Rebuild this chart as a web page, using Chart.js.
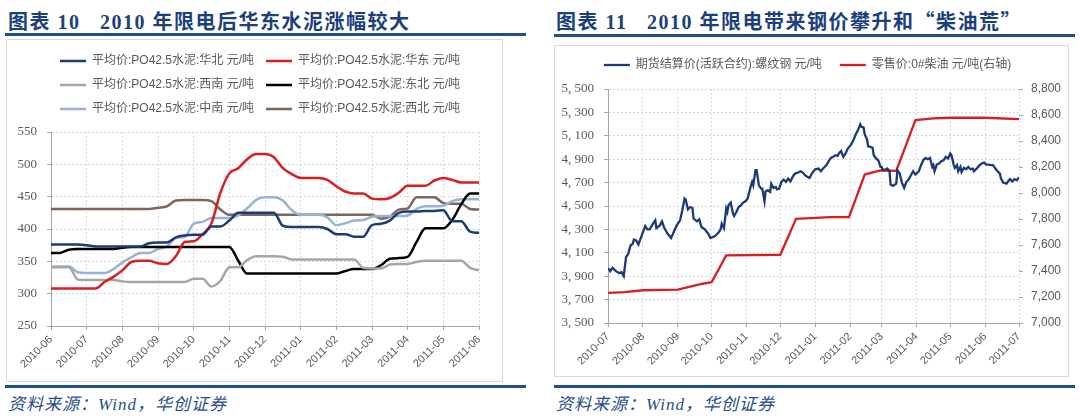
<!DOCTYPE html>
<html lang="zh">
<head>
<meta charset="UTF-8">
<title>限电与价格</title>
<script src="https://cdn.jsdelivr.net/npm/chart.js"></script>
<style>
    body { margin: 0; width: 1080px; height: 419px; background: #fff; position: relative; overflow: hidden; }
    .title { position: absolute; top: 6px; font: bold 20px "Liberation Serif", "Noto Sans CJK SC", serif; color: #1c3f7e; letter-spacing: 1.5px; white-space: pre; }
    .title .q { font-family: "Noto Sans CJK SC", sans-serif; }
    .rule { position: absolute; height: 3px; background: #1f4e8c; }
    .box { position: absolute; border: 1px solid #d9d9d9; box-sizing: border-box; }
    .wrap { position: absolute; }
    .src { position: absolute; top: 390px; font: italic 17px "Liberation Serif", "Noto Sans CJK SC", serif; color: #1f4e8c; letter-spacing: 1px; }
</style>
</head>
<body>
<div class="title" style="left:8px">图表 10   2010 年限电后华东水泥涨幅较大</div>
<div class="rule" style="left:5px;width:521px;top:33px"></div>
<div class="box" style="left:6px;top:39px;width:497px;height:343px"></div>
<div class="wrap" style="left:6px;top:39px;width:508px;height:343px"><canvas id="cementChart"></canvas></div>
<div class="rule" style="left:5px;width:521px;top:385px"></div>
<div class="src" style="left:8px">资料来源：Wind，华创证券</div>

<div class="title" style="left:556px">图表 11   2010 年限电带来钢价攀升和<span class="q">“柴油荒”</span></div>
<div class="rule" style="left:554px;width:521px;top:34px"></div>
<div class="box" style="left:554px;top:45px;width:515px;height:332px"></div>
<div class="wrap" style="left:554px;top:45px;width:507px;height:332px"><canvas id="steelChart"></canvas></div>
<div class="rule" style="left:554px;width:521px;top:385px"></div>
<div class="src" style="left:556px">资料来源：Wind，华创证券</div>

<script>
// 图表10: 周度水泥价格, 每月4个点
const cementMonths = ['2010-06', '2010-07', '2010-08', '2010-09', '2010-10', '2010-11', '2010-12',
    '2011-01', '2011-02', '2011-03', '2011-04', '2011-05', '2011-06'];
const cementHB = [376,376,376,376,375,373,373,373,373,373,373,378,379,379,387,390,391,391,404,404,413,425,425,425,425,
    425,405,403,403,403,403,400,392,392,388,388,406,408,413,425,427,427,428,428,429,412,412,396,394];
const cementHD = [308,308,308,308,308,308,318,326,336,349,351,351,347,346,358,380,381,392,409,456,486,494,508,516,516,
    511,494,485,479,479,479,476,466,458,455,455,447,446,448,456,467,467,467,475,479,476,472,472,472];
const cementXN = [341,341,341,322,321,321,321,321,319,318,318,318,318,318,318,318,323,323,311,320,341,341,352,358,358,
    358,357,353,353,353,353,353,353,353,353,340,339,339,345,346,346,349,351,351,351,351,351,340,336];
const cementDB = [363,363,368,369,369,369,369,369,371,372,372,372,372,372,372,372,372,372,372,372,372,351,331,331,331,
    331,331,331,331,331,331,331,331,335,338,338,338,344,354,355,357,380,401,401,401,414,438,455,455];
const cementZN = [342,342,342,333,332,332,332,338,348,356,363,363,369,373,386,388,408,411,417,417,417,421,432,445,449,
    449,444,429,422,422,422,418,406,409,413,414,419,420,420,420,421,431,435,435,436,443,446,446,446];
const cementXB = [431,431,431,431,431,431,431,431,431,431,431,431,433,435,444,445,445,445,443,430,422,422,422,422,422,
    422,422,422,422,422,422,422,422,422,422,422,422,416,419,430,432,449,449,449,440,439,439,431,430];

// 图表11: 螺纹钢期货(左轴) 与 0#柴油零售价(右轴), 横轴为自2010-07-01起的天数
const steelMonths = ['2010-07', '2010-08', '2010-09', '2010-10', '2010-11', '2010-12', '2011-01',
    '2011-02', '2011-03', '2011-04', '2011-05', '2011-06', '2011-07'];
const steelMonthDays = [0, 31, 62, 92, 123, 153, 184, 215, 243, 274, 304, 335, 365];
const steelDays = [0,2,4,7,10,12,14,16,18,20,22,23,25,27,30,33,35,37,40,42,43,46,48,50,53,56,58,61,64,66,68,69,71,73,75,76,
    79,81,83,86,89,91,95,98,100,101,103,105,106,107,109,111,112,114,116,118,120,122,124,127,128,129,131,132,134,136,137,
    139,140,142,144,145,147,149,150,152,154,156,158,160,162,164,166,169,171,173,175,177,179,181,184,187,189,191,194,196,
    198,200,202,204,205,207,209,211,213,216,218,220,222,224,225,227,228,230,231,233,235,236,238,240,242,243,244,247,248,
    250,251,253,256,257,259,261,263,265,267,269,271,273,276,278,280,282,284,286,288,289,290,292,294,296,298,300,302,304,
    305,307,308,310,311,313,314,316,318,320,322,324,325,328,330,332,334,336,338,340,342,344,346,348,349,351,354,356,357,
    359,361,363,365];
const steelPrice = [3969,3943,3971,3943,3926,3934,3900,4063,4091,4163,4177,4214,4206,4171,4249,4329,4300,4300,4349,4377,
    4311,4334,4369,4311,4263,4226,4269,4334,4377,4463,4563,4554,4471,4491,4483,4391,4369,4386,4320,4300,4263,4226,4243,
    4271,4300,4349,4311,4477,4449,4506,4529,4434,4414,4449,4491,4506,4529,4540,4563,4677,4706,4677,4806,4806,4677,4649,
    4649,4540,4626,4634,4620,4691,4654,4663,4643,4649,4706,4726,4706,4734,4711,4749,4777,4786,4797,4786,4763,4749,4740,
    4777,4814,4820,4797,4820,4849,4883,4911,4920,4934,4929,4949,4969,4920,4949,4991,5026,5063,5111,5149,5197,5177,5171,
    5111,5071,5011,5006,4997,4934,4906,4891,4834,4834,4806,4814,4820,4797,4683,4671,4691,4806,4780,4700,4654,4706,4726,
    4763,4797,4769,4797,4849,4891,4911,4900,4911,4834,4849,4797,4854,4863,4883,4891,4920,4906,4949,4934,4854,4826,4849,
    4797,4834,4791,4826,4814,4834,4814,4820,4797,4826,4849,4863,4871,4854,4854,4849,4849,4820,4797,4777,4734,4700,4691,
    4720,4729,4710,4730,4720,4745];
const dieselDays = [0, 15, 31, 62, 83, 92, 105, 153, 167, 197, 214, 228, 242, 256, 273, 289, 304, 335, 365];
const dieselPrice = [7232, 7237, 7252, 7257, 7300, 7314, 7520, 7525, 7802, 7815, 7815, 8142, 8173, 8170, 8561, 8574,
    8579, 8579, 8569];

const sansFont = '"Liberation Sans", "Noto Sans CJK SC", sans-serif';
const tickColor = '#595959';
const gridOpts = { color: '#d9d9d9', tickColor: '#a6a6a6', tickLength: 4 };
const borderOpts = { color: '#a6a6a6', dash: [2, 2] };

function weekly(values) {
    return values.map((v, i) => ({ x: i / 4, y: v }));
}
function pairs(days, values) {
    return days.map((d, i) => ({ x: d, y: values[i] }));
}
function cementLine(label, values, color) {
    return {
        label: label, data: weekly(values), borderColor: color, backgroundColor: color,
        borderWidth: 2.5, pointRadius: 0, tension: 0.25, cubicInterpolationMode: 'monotone'
    };
}
// empty subtitle used as a gap between legend and plot
function spacer(h) {
    return { display: true, text: '', weight: 500, font: { size: 1, lineHeight: 1 }, padding: { top: 0, bottom: h - 1 } };
}
// invisible axis that only reserves room on the right
function padAxis(w) {
    return {
        position: 'right', display: true, ticks: { display: false }, grid: { display: false },
        border: { display: false }, afterFit: s => { s.width = w; }
    };
}

new Chart(document.getElementById('cementChart'), {
    type: 'line',
    data: {
        datasets: [
            cementLine('平均价:PO42.5水泥:华北 元/吨', cementHB, '#1a3a78'),
            cementLine('平均价:PO42.5水泥:华东 元/吨', cementHD, '#d81e1e'),
            cementLine('平均价:PO42.5水泥:西南 元/吨', cementXN, '#a6a6a6'),
            cementLine('平均价:PO42.5水泥:东北 元/吨', cementDB, '#000000'),
            cementLine('平均价:PO42.5水泥:中南 元/吨', cementZN, '#95b3d7'),
            cementLine('平均价:PO42.5水泥:西北 元/吨', cementXB, '#7f655c')
        ]
    },
    options: {
        responsive: true,
        maintainAspectRatio: false,
        animation: false,
        layout: { padding: { top: 4, right: 0, left: 0, bottom: 0 } },
        plugins: {
            tooltip: { enabled: false },
            subtitle: spacer(7),
            legend: {
                labels: {
                    usePointStyle: true, pointStyle: 'line', pointStyleWidth: 26, boxHeight: 12,
                    padding: 12, color: tickColor, font: { family: sansFont, size: 12 }
                }
            }
        },
        scales: {
            x: {
                type: 'linear', min: 0, max: 12,
                ticks: {
                    stepSize: 1, autoSkip: false, maxRotation: 45, minRotation: 45,
                    color: tickColor, font: { family: sansFont, size: 11 },
                    callback: v => cementMonths[v]
                },
                grid: gridOpts, border: borderOpts,
                afterFit: s => { s.height = 56; }
            },
            y: {
                min: 250, max: 550,
                ticks: { stepSize: 50, padding: 10, color: tickColor, font: { family: '"Liberation Serif", serif', size: 13 } },
                grid: gridOpts, border: borderOpts,
                afterFit: s => { s.width = 45; }
            },
            pad: padAxis(35)
        }
    }
});

new Chart(document.getElementById('steelChart'), {
    type: 'line',
    data: {
        datasets: [
            {
                label: '期货结算价(活跃合约):螺纹钢 元/吨', data: pairs(steelDays, steelPrice), yAxisID: 'y',
                borderColor: '#1a3a78', backgroundColor: '#1a3a78', borderWidth: 2.3, pointRadius: 0
            },
            {
                label: '零售价:0#柴油 元/吨(右轴)', data: pairs(dieselDays, dieselPrice), yAxisID: 'y1',
                borderColor: '#d81e1e', backgroundColor: '#d81e1e', borderWidth: 2.3, pointRadius: 0
            }
        ]
    },
    options: {
        responsive: true,
        maintainAspectRatio: false,
        animation: false,
        layout: { padding: { top: -4, right: 0, left: 0, bottom: 0 } },
        plugins: {
            tooltip: { enabled: false },
            subtitle: spacer(8),
            legend: {
                labels: {
                    usePointStyle: true, pointStyle: 'line', pointStyleWidth: 26, boxHeight: 12,
                    padding: 18, color: tickColor, font: { family: sansFont, size: 12 }
                }
            }
        },
        scales: {
            x: {
                type: 'linear', min: 0, max: 365,
                afterBuildTicks: s => { s.ticks = steelMonthDays.map(d => ({ value: d })); },
                ticks: {
                    autoSkip: false, maxRotation: 45, minRotation: 45,
                    color: tickColor, font: { family: sansFont, size: 11 },
                    callback: (v, i) => steelMonths[i]
                },
                grid: gridOpts, border: borderOpts,
                afterFit: s => { s.height = 54; }
            },
            y: {
                position: 'left', min: 3500, max: 5500,
                ticks: {
                    stepSize: 200, padding: 10, color: tickColor, font: { family: '"Liberation Serif", serif', size: 13 },
                    callback: v => { const s = String(v); return s.slice(0, -3) + ', ' + s.slice(-3); }
                },
                grid: gridOpts, border: borderOpts,
                afterFit: s => { s.width = 54; }
            },
            y1: {
                position: 'right', min: 7000, max: 8800,
                ticks: {
                    stepSize: 200, padding: 8, color: tickColor, font: { family: sansFont, size: 12 },
                    callback: v => v.toLocaleString('en-US')
                },
                grid: { drawOnChartArea: false, tickColor: '#a6a6a6', tickLength: 4 },
                border: { display: false },
                afterFit: s => { s.width = 42; }
            }
        }
    }
});
</script>
</body>
</html>
